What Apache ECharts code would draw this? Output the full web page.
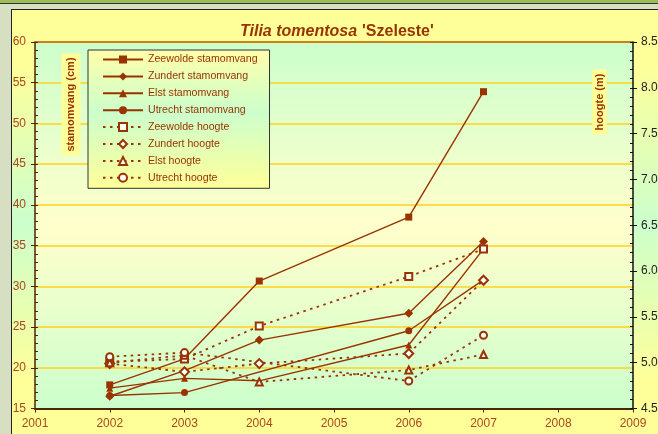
<!DOCTYPE html>
<html><head><meta charset="utf-8">
<script src="https://cdn.jsdelivr.net/npm/echarts@6/dist/echarts.min.js"></script>
<style>html,body{margin:0;padding:0;background:#d6dfc2;}#c{width:658px;height:434px;}</style>
</head><body><div id="c"></div>
<script>
// ---- data ----
const years = [2002, 2003, 2004, 2006, 2007];
const zeewoldeStam = [17.9, 21.1, 30.65, 38.5, 53.9];
const zundertStam  = [16.5, 19.65, 23.4, 26.7, 35.5];
const elstStam     = [17.5, 18.7, 18.4, 22.8, 34.6];
const utrechtStam  = [16.6, 16.95, null, 24.55, 30.8];
const zeewoldeHoog = [5.01, 5.04, 5.40, 5.94, 6.24];
const zundertHoog  = [4.99, 4.90, 4.99, 5.10, 5.90];
const elstHoog     = [5.00, 5.08, 4.79, 4.92, 5.09];
const utrechtHoog  = [5.065, 5.11, null, 4.80, 5.30];
const seriesNames = ['Zeewolde stamomvang','Zundert stamomvang','Elst stamomvang','Utrecht stamomvang',
                     'Zeewolde hoogte','Zundert hoogte','Elst hoogte','Utrecht hoogte'];
const titleMain = 'Tilia tomentosa';
const titleCult = "'Szeleste'";
const leftName = 'stamomvang (cm)';
const rightName = 'hoogte (m)';

// ---- build ----
const FONT = 'Liberation Sans, Arial, sans-serif';
const RED = '#993300';
const lbl = '#a8481c';
function pairs(arr){ const out=[]; years.forEach((y,i)=>{ if(arr[i]!==null) out.push([y,arr[i]]); }); return out; }
function grad(stops){ return {type:'linear',x:0,y:0,x2:0,y2:1,colorStops:stops.map(s=>({offset:s[0],color:s[1]}))}; }

const stamData = [zeewoldeStam, zundertStam, elstStam, utrechtStam];
const hoogData = [zeewoldeHoog, zundertHoog, elstHoog, utrechtHoog];
const solidSym = ['rect','diamond','triangle','circle'];
const emptySym = ['emptyRect','emptyDiamond','emptyTriangle','emptyCircle'];

const series = [];
stamData.forEach((arr,i)=>series.push({
  name: seriesNames[i], type:'line', xAxisIndex:0, yAxisIndex:0, data: pairs(arr),
  symbol: solidSym[i], symbolSize: i===1?9:7, showSymbol:true,
  lineStyle:{color:RED,width:1.4}, itemStyle:{color:RED,borderWidth:0}, emphasis:{disabled:true}, animation:false, z:3
}));
hoogData.forEach((arr,i)=>series.push({
  name: seriesNames[i+4], type:'line', xAxisIndex:0, yAxisIndex:1, data: pairs(arr),
  symbol: emptySym[i], symbolSize: i===1?9:7, showSymbol:true,
  lineStyle:{color:RED,width:1.8,type:[2.5,4.5]}, itemStyle:{color:RED,borderWidth:1.2}, emphasis:{disabled:true}, animation:false, z:4
}));

const chart = echarts.init(document.getElementById('c'), null, {renderer:'canvas'});
chart.setOption({
  animation:false,
  backgroundColor:'transparent',
  graphic:{elements:[
    {type:'rect', z:-100, silent:true, shape:{x:0,y:0,width:658,height:434}, style:{fill:'#d6dfc2'}},
    {type:'rect', z:-99, silent:true, shape:{x:0,y:0,width:658,height:3}, style:{fill:'#9bbb59'}},
    {type:'rect', z:-99, silent:true, shape:{x:0,y:3,width:658,height:1}, style:{fill:'#333'}},
    {type:'rect', z:-99, silent:true, shape:{x:11,y:9,width:647,height:425}, style:{fill:'#222'}},
    {type:'rect', z:-98, silent:true, shape:{x:12,y:10,width:646,height:424},
      style:{fill:grad([[0,'#ffff99'],[0.12,'#ffff99'],[0.5,'#ccffcc'],[0.88,'#ffff99'],[1,'#ffff99']])}},
    {type:'text', z:50, silent:true, x:71, y:104.5, rotation:Math.PI/2,
      style:{text:leftName, font:'bold 11px '+FONT, fill:RED, backgroundColor:'#ffff99', padding:[4,4,4,4], align:'center', verticalAlign:'middle'}},
    {type:'text', z:50, silent:true, x:599.5, y:102, rotation:Math.PI/2,
      style:{text:rightName, font:'bold 11px '+FONT, fill:RED, backgroundColor:'#ffff99', padding:[2,4,2,4], align:'center', verticalAlign:'middle'}}
  ]},
  title:{
    text:'{i|'+titleMain+'} {b|'+titleCult+'}',
    left:240, top:23, padding:0,
    textStyle:{rich:{
      i:{fontStyle:'italic',fontWeight:'bold',fontSize:16,color:RED,fontFamily:FONT},
      b:{fontWeight:'bold',fontSize:16,color:RED,fontFamily:FONT}
    }}
  },
  legend:{
    data:seriesNames, orient:'vertical', left:88, top:50,
    itemWidth:40, itemHeight:10, itemGap:5.9,
    padding:[4,12,5,14],
    backgroundColor:grad([[0,'#ffffaa'],[0.45,'#ccffcc'],[1,'#ffff99']]),
    borderColor:'#333', borderWidth:1,
    textStyle:{color:RED,fontSize:10.6,lineHeight:11,fontFamily:FONT},
    selectedMode:false
  },
  grid:{left:35, right:25, top:42, bottom:25.5, show:true, borderWidth:0,
    backgroundColor:grad([[0,'#ccffcc'],[0.5,'#ffffcc'],[1,'#ccffcc']]), outerBoundsMode:'none'},
  xAxis:[
    {type:'value', min:2001, max:2009, interval:1, position:'bottom',
      axisLine:{show:true,lineStyle:{color:'#4d2600',width:2}},
      axisTick:{show:true,length:4,lineStyle:{color:'#4d2600',width:1}},
      axisLabel:{color:lbl,fontSize:12,fontFamily:FONT,margin:9,formatter:v=>String(v)},
      splitLine:{show:false}},
    {type:'value', min:2001, max:2009, interval:1, position:'top',
      axisLine:{show:true,lineStyle:{color:'#bf600c',width:1.5}},
      axisTick:{show:false}, axisLabel:{show:false}, splitLine:{show:false}}
  ],
  yAxis:[
    {type:'value', min:15, max:60, interval:5, position:'left',
      axisLine:{show:true,lineStyle:{color:'#4d2600',width:1.5}},
      axisTick:{show:true,inside:true,length:3,lineStyle:{color:'#4d2600'}},
      minorTick:{show:true,splitNumber:5,length:3,lineStyle:{color:'#4d2600'}},
      axisLabel:{color:lbl,fontSize:12,fontFamily:FONT,margin:9},
      splitLine:{show:true,lineStyle:{color:'#ffd21e',width:1.5}}},
    {type:'value', min:4.5, max:8.5, interval:0.5, position:'right',
      axisLine:{show:true,lineStyle:{color:'#111',width:1.5}},
      axisTick:{show:true,inside:true,length:3,lineStyle:{color:'#111'}},
      minorTick:{show:true,splitNumber:5,length:3,lineStyle:{color:'#111'}},
      axisLabel:{color:'#222',fontSize:12,fontFamily:FONT,margin:8,formatter:v=>v.toFixed(1)},
      splitLine:{show:false}},
    {type:'value', min:15, max:60, interval:5, position:'left', offset:0,
      axisLine:{show:false}, axisLabel:{show:false}, splitLine:{show:false},
      axisTick:{show:true,length:4,lineStyle:{color:'#4d2600'}}},
    {type:'value', min:4.5, max:8.5, interval:0.5, position:'right', offset:0,
      axisLine:{show:false}, axisLabel:{show:false}, splitLine:{show:false},
      axisTick:{show:true,length:4,lineStyle:{color:'#111'}}}
  ],
  series:series
});
</script></body></html>
